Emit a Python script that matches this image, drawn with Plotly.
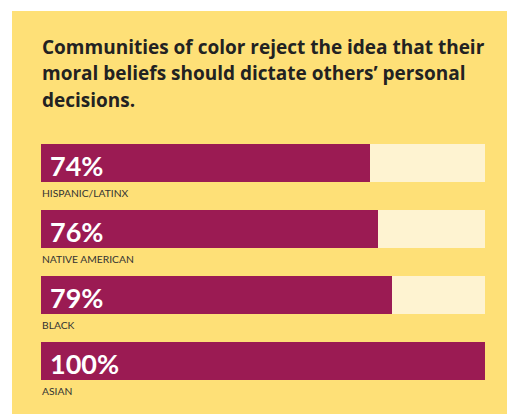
import plotly.graph_objects as go

categories = ["HISPANIC/LATINX", "NATIVE AMERICAN", "BLACK", "ASIAN"]
values = [74, 76, 79, 100]
value_labels = ["74%", "76%", "79%", "100%"]
title_lines = ["Communities of color reject the idea that their",
               "moral beliefs should dictate others’ personal",
               "decisions."]

YELLOW = "#FEE077"
MAGENTA = "#9B1B53"
CREAM = "#FEF3D1"

W, H = 507, 414
ML, MR, MT, MB = 41, 22, 130, 20
ypos = list(range(len(categories)))

fig = go.Figure()
fig.add_trace(go.Bar(y=ypos, x=[100] * len(categories), orientation="h",
                     marker=dict(color=CREAM, line=dict(width=0)),
                     width=0.59, hoverinfo="skip", showlegend=False))
fig.add_trace(go.Bar(y=ypos, x=values, orientation="h",
                     marker=dict(color=MAGENTA, line=dict(width=0)),
                     width=0.59, showlegend=False))

annotations = []
for i, (c, lab) in enumerate(zip(categories, value_labels)):
    annotations.append(dict(x=0, y=i, xref="x", yref="y", text=lab,
                            showarrow=False, xanchor="left", yanchor="middle",
                            xshift=7, yshift=-2,
                            font=dict(family="Lato", size=27, color="white", weight="bold")))
    annotations.append(dict(x=0, y=i + 0.45, xref="x", yref="y", text=c,
                            showarrow=False, xanchor="left", yanchor="middle",
                            xshift=-1,
                            font=dict(family="Lato", size=10.3, color="#333333")))

plot_h = H - MT - MB
for k, line in enumerate(title_lines):
    ypix = 47 + 26.5 * k
    annotations.append(dict(x=0, y=1 + (MT - ypix) / plot_h, xref="paper", yref="paper",
                            text=line, showarrow=False, xanchor="left", yanchor="middle",
                            align="left", xshift=-1,
                            font=dict(family="Open Sans", size=19, color="#222222", weight="bold")))

fig.update_layout(
    width=W, height=H,
    margin=dict(l=ML, r=MR, t=MT, b=MB, pad=0),
    paper_bgcolor=YELLOW, plot_bgcolor=YELLOW,
    barmode="overlay", bargap=0,
    xaxis=dict(range=[0, 100], visible=False, fixedrange=True),
    yaxis=dict(range=[len(categories) - 0.5, -0.5], visible=False, fixedrange=True),
    annotations=annotations,
    shapes=[
        dict(type="rect", xref="paper", yref="paper",
             x0=-ML / (W - ML - MR), x1=1 + MR / (W - ML - MR),
             y0=1 + (MT - 11) / plot_h, y1=1 + MT / plot_h + 0.01,
             fillcolor="white", line=dict(width=0), layer="above"),
        dict(type="rect", xref="paper", yref="paper",
             x0=-ML / (W - ML - MR) - 0.01, x1=-(ML - 12) / (W - ML - MR),
             y0=-MB / plot_h - 0.01, y1=1 + MT / plot_h + 0.01,
             fillcolor="white", line=dict(width=0), layer="above"),
    ],
)

fig.write_html("out.html")
